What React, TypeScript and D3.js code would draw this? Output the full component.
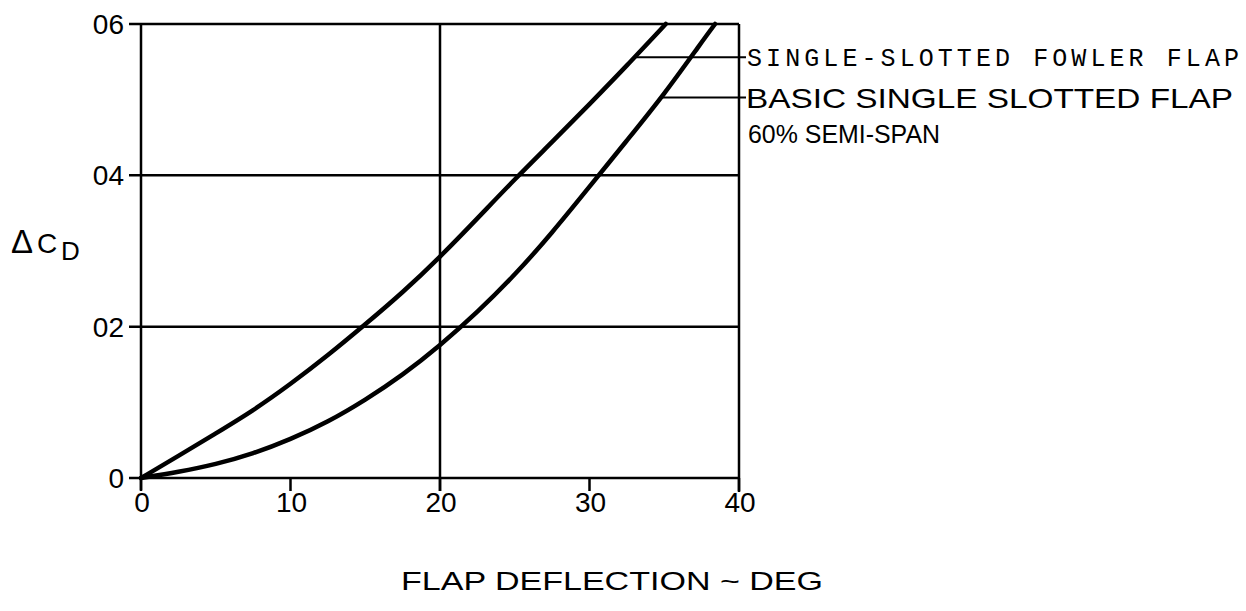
import React from "react";
import * as d3 from "d3";

const fowlerDeg = [0, 2.5, 5, 7.5, 10, 12.5, 15, 17.5, 20, 22.5, 25, 27.5, 30, 32.5, 35.1];
const fowlerVal = [0, 0.0029, 0.0059, 0.0089, 0.0124, 0.0162, 0.0203, 0.0245, 0.0292, 0.0343, 0.0395, 0.0444, 0.0494, 0.0545, 0.06];

const basicDeg = [0, 2.5, 5, 7.5, 10, 12.5, 15, 17.5, 20, 22.5, 25, 27.5, 30, 32.5, 35, 37.5, 38.4];
const basicVal = [0, 0.0008, 0.0018, 0.0032, 0.0051, 0.0074, 0.0103, 0.0136, 0.0175, 0.0219, 0.0268, 0.0324, 0.0385, 0.0446, 0.0507, 0.0576, 0.06];

const xTicks = [0, 10, 20, 30, 40];
const xTickLabels = ["0", "10", "20", "30", "40"];
const yTicks = [0, 0.02, 0.04, 0.06];
const yTickLabels = ["0", "02", "04", "06"];
const xGrid = [20];
const yGrid = [0.02, 0.04];

const seriesLabels = ["SINGLE-SLOTTED FOWLER FLAP", "BASIC SINGLE SLOTTED FLAP"];
const seriesLabel2 = "60% SEMI-SPAN";
const leaderDeg = [33.1, 34.85];
const leaderVal = [0.0556, 0.0503];

export default function App() {
  const W = 1246, H = 611;
  const x = d3.scaleLinear().domain([0, 40]).range([141, 739]);
  const y = d3.scaleLinear().domain([0, 0.06]).range([478, 24]);
  const line = d3
    .line<[number, number]>()
    .x((d) => x(d[0]))
    .y((d) => y(d[1]))
    .curve(d3.curveBasis);
  const fowler = fowlerDeg.map((d, i) => [d, fowlerVal[i]] as [number, number]);
  const basic = basicDeg.map((d, i) => [d, basicVal[i]] as [number, number]);
  const sans = "'Liberation Sans', Arial, Helvetica, sans-serif";
  const x0 = x(0), x1 = x(40), y0 = y(0), y1 = y(0.06);
  return (
    <svg width={W} height={H} style={{ position: "absolute", left: 0, top: 0, background: "#fff" }}>
      <rect x={0} y={0} width={W} height={H} fill="#fff" />
      <g stroke="#000" strokeWidth={2.5} fill="none">
        <line x1={x0} y1={y1} x2={x0} y2={y0 + 12} />
        <line x1={x1} y1={y1} x2={x1} y2={y0 + 14} />
        <line x1={x0 - 12} y1={y1} x2={x1} y2={y1} />
        <line x1={x0 - 12} y1={y0} x2={x1} y2={y0} />
        {yGrid.map((v) => (
          <line key={"yg" + v} x1={x0 - 12} y1={y(v)} x2={x1} y2={y(v)} />
        ))}
        {xGrid.map((v) => (
          <line key={"xg" + v} x1={x(v)} y1={y1} x2={x(v)} y2={y0 + 13} />
        ))}
        {xTicks.map((v) => (
          <line key={"xt" + v} x1={x(v)} y1={y0} x2={x(v)} y2={y0 + 13} />
        ))}
      </g>
      <g fontFamily={sans} fontSize={28} fill="#000">
        {yTicks.map((v, i) => (
          <text key={"yl" + v} x={x0 - 17} y={y(v) + 10} textAnchor="end">
            {yTickLabels[i]}
          </text>
        ))}
        {xTicks.map((v, i) => (
          <text key={"xl" + v} x={x(v) + 1} y={y0 + 34} textAnchor="middle">
            {xTickLabels[i]}
          </text>
        ))}
      </g>
      <path d={line(fowler) || ""} fill="none" stroke="#000" strokeWidth={4.5} strokeLinecap="round" />
      <path d={line(basic) || ""} fill="none" stroke="#000" strokeWidth={4.5} strokeLinecap="round" />
      <g stroke="#000" strokeWidth={2}>
        {leaderDeg.map((d, i) => (
          <line key={"ld" + i} x1={x(d)} y1={y(leaderVal[i])} x2={x1 + 7} y2={y(leaderVal[i])} />
        ))}
      </g>
      <text
        x={747}
        y={y(leaderVal[0]) + 9}
        fontFamily="'Liberation Mono', 'DejaVu Sans Mono', monospace"
        fontSize={25}
        textLength={492}
        lengthAdjust="spacing"
        fill="#000"
      >
        {seriesLabels[0]}
      </text>
      <text x={746} y={y(leaderVal[1]) + 11} fontFamily={sans} fontSize={28} textLength={487} lengthAdjust="spacingAndGlyphs" fill="#000">
        {seriesLabels[1]}
      </text>
      <text x={748} y={143} fontFamily={sans} fontSize={26} textLength={192} lengthAdjust="spacingAndGlyphs" fill="#000">
        {seriesLabel2}
      </text>
      <g fontFamily={sans} fill="#000">
        <text x={11} y={253} fontSize={33}>Δ</text>
        <text x={37} y={253} fontSize={28}>C</text>
        <text x={61} y={260} fontSize={26}>D</text>
      </g>
      <text x={401} y={590} fontFamily={sans} fontSize={25} textLength={422} lengthAdjust="spacingAndGlyphs" fill="#000">
        FLAP DEFLECTION ~ DEG
      </text>
    </svg>
  );
}
